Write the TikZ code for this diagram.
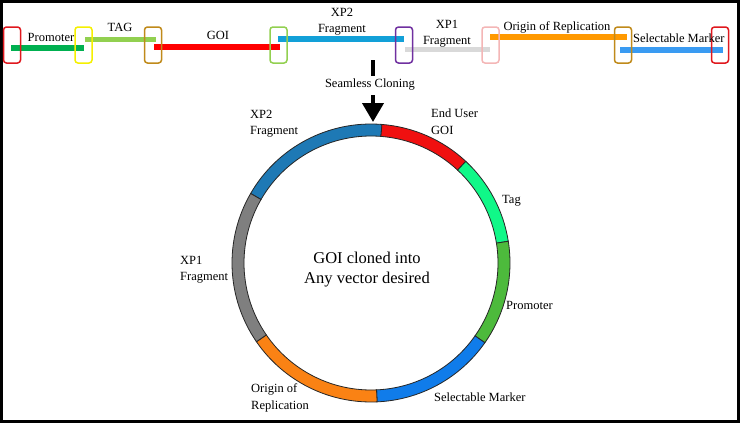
\documentclass[tikz,border=0pt]{standalone}
\usepackage{fontspec}
\setmainfont{Liberation Serif}
\usetikzlibrary{calc,arrows.meta}
\definecolor{cPromBar}{HTML}{00B050}
\definecolor{cTagBar}{HTML}{92D050}
\definecolor{cGoiBar}{HTML}{FF0000}
\definecolor{cXPtwoBar}{HTML}{12A0D8}
\definecolor{cXPoneBar}{HTML}{D9D9D9}
\definecolor{cOriBar}{HTML}{FF9900}
\definecolor{cSelBar}{HTML}{3A9BF2}
\definecolor{bRed}{HTML}{E0181E}
\definecolor{bYellow}{HTML}{F5F000}
\definecolor{bGold}{HTML}{C08A1A}
\definecolor{bLGreen}{HTML}{92D050}
\definecolor{bPurple}{HTML}{7030A0}
\definecolor{bPink}{HTML}{F4B6B6}
\definecolor{rBlue}{HTML}{1E79B5}
\definecolor{rRed}{HTML}{F01010}
\definecolor{rTag}{HTML}{10F888}
\definecolor{rProm}{HTML}{4DBA3C}
\definecolor{rSel}{HTML}{107CEA}
\definecolor{rOri}{HTML}{FA8214}
\definecolor{rGray}{HTML}{7F7F7F}
\newcommand{\ringseg}[3]{\filldraw[seg, fill=#3] ($(C)+(#1:139pt)$) arc[start angle=#1, end angle=#2, radius=139pt] -- ($(C)+(#2:127pt)$) arc[start angle=#2, end angle=#1, radius=127pt] -- cycle;}
\begin{document}
\begin{tikzpicture}[x=1pt,y=-1pt,
  bar/.style={line width=6pt},
  site/.style={draw, line width=1.5pt, rounded corners=3pt, minimum width=17pt, minimum height=36pt, inner sep=0pt},
  lbl/.style={font=\fontsize{12.5}{16.5}\selectfont, inner sep=0pt},
  seg/.style={draw=black!85, line width=0.8pt},
  arr/.style={line width=4pt, -{Triangle[width=21pt,length=19pt]}}]
\useasboundingbox (0,0) rectangle (740,423);
\fill[white] (0,0) rectangle (740,423);
\draw[line width=3pt] (1.5,1.5) rectangle (738.5,421);
% top strip bars
\coordinate (p1) at (11,48); \coordinate (p2) at (84,48);
\draw[bar, cPromBar] (p1) -- (p2);
\coordinate (t1) at (85,39); \coordinate (t2) at (156,39);
\draw[bar, cTagBar, line width=5pt] (t1) -- (t2);
\coordinate (g1) at (154,47); \coordinate (g2) at (280,47);
\draw[bar, cGoiBar] (g1) -- (g2);
\coordinate (x21) at (278,39); \coordinate (x22) at (404,39);
\draw[bar, cXPtwoBar] (x21) -- (x22);
\coordinate (x11) at (405,49.5); \coordinate (x12) at (490,49.5);
\draw[bar, cXPoneBar, line width=5pt] (x11) -- (x12);
\coordinate (o1) at (490,37); \coordinate (o2) at (627,37);
\draw[bar, cOriBar] (o1) -- (o2);
\coordinate (s1) at (620,50); \coordinate (s2) at (723,50);
\draw[bar, cSelBar, line width=5.5pt] (s1) -- (s2);
% sites
\node[site, bRed] (b1) at (12,45) {};
\node[site, bYellow] (b2) at (83.5,45) {};
\node[site, bGold] (b3) at (153,45) {};
\node[site, bLGreen] (b4) at (278.5,45) {};
\node[site, bPurple] (b5) at (404,45) {};
\node[site, bPink] (b6) at (490.5,45) {};
\node[site, bGold] (b7) at (623,45) {};
\node[site, bRed] (b8) at (720,45) {};
% top labels
\node[lbl] (lprom) at (51,37) {Promoter};
\node[lbl] (ltag) at (120,27) {TAG};
\node[lbl] (lgoi) at (218,35) {GOI};
\node[lbl, align=center] (lxp2) at (342,21.5) {XP2\\Fragment};
\node[lbl, align=center] (lxp1) at (447,33.5) {XP1\\Fragment};
\node[lbl] (lori) at (557,27) {Origin of Replication};
\node[lbl, anchor=west] (lsel) at (633,38) {Selectable Marker};
% seamless cloning arrow
\coordinate (k1) at (373,60); \coordinate (k2) at (373,76);
\draw[line width=4pt] (k1) -- (k2);
\node[lbl] (lseam) at (370,85) {Seamless Cloning};
\coordinate (a0) at (373,95); \coordinate (tip) at (373,122);
\draw[arr] (a0) -- (tip);
% ring
\coordinate (C) at (371,263);
\ringseg{85.5}{150}{rBlue}
\ringseg{47}{85.5}{rRed}
\ringseg{9}{47}{rTag}
\ringseg{-35}{9}{rProm}
\ringseg{-87.5}{-35}{rSel}
\ringseg{-145.5}{-87.5}{rOri}
\ringseg{150}{214.5}{rGray}
% ring labels
\node[lbl, align=left, anchor=west] (rxp2) at (250,123.5) {XP2\\Fragment};
\node[lbl, align=left, anchor=west] (reu) at (431,121.5) {End User\\GOI};
\node[lbl, anchor=west] (rtag) at (502,201) {Tag};
\node[lbl, anchor=west] (rprom) at (506,305) {Promoter};
\node[lbl, anchor=west] (rsel) at (434,397) {Selectable Marker};
\node[lbl, align=left, anchor=west] (rori) at (251,398) {Origin of\\Replication};
\node[lbl, align=left, anchor=west] (rxp1) at (180,269.5) {XP1\\Fragment};
\node[font=\fontsize{16.5}{20}\selectfont, align=center, inner sep=0pt] (ctr) at (367,270) {GOI cloned into\\Any vector desired};
\end{tikzpicture}
\end{document}
